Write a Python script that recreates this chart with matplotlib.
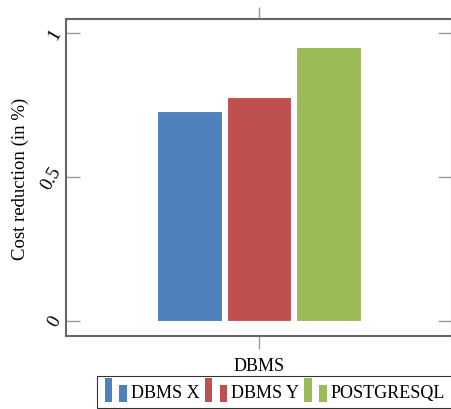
import matplotlib
matplotlib.use('Agg')
import matplotlib.pyplot as plt
from matplotlib.patches import Rectangle
from matplotlib.legend_handler import HandlerBase

# data
category = ['DBMS']
series = ['DBMS X', 'DBMS Y', 'POSTGRESQL']
values = [0.73, 0.779, 0.953]
colors = ['#4F81BD', '#C0504D', '#9BBB59']
yticks = [0, 0.5, 1]
ytick_labels = ['0', '0.5', '1']

plt.rcParams['font.family'] = ['Liberation Serif', 'DejaVu Serif']


class TwoBarHandler(HandlerBase):
    # pgfplots style ybar legend image: tall bar then short bar
    def create_artists(self, legend, orig_handle, xdescent, ydescent,
                       width, height, fontsize, trans):
        c = orig_handle.get_facecolor()
        x0 = -xdescent
        y0 = -ydescent - 0.4 * height
        r1 = Rectangle((x0, y0), 0.32 * width, 1.85 * height, fc=c, ec='none', transform=trans)
        r2 = Rectangle((x0 + 0.66 * width, y0), 0.34 * width, 1.35 * height, fc=c, ec='none', transform=trans)
        return [r1, r2]


fig = plt.figure(figsize=(4.51, 4.10), dpi=100)
ax = fig.add_axes([66 / 451, 1 - 337 / 410, 386 / 451, 317 / 410])

w = 0.168
step = 0.18
handles = []
for i, (name, v, c) in enumerate(zip(series, values, colors)):
    b = ax.bar((i - 1) * step, v, width=w, color=c, edgecolor='white', linewidth=0.8, label=name)
    handles.append(b[0])

ax.set_xlim(-0.5, 0.5)
ax.set_ylim(-0.052, 1.05)
ax.set_xticks([0])
ax.set_xticklabels(category, fontsize=13)
ax.set_yticks(yticks)
ax.set_yticklabels(ytick_labels, fontsize=13.5, rotation=60, va='center')
ax.tick_params(axis='y', direction='in', length=10, width=1, color='#999999', right=True, pad=1)
ax.tick_params(axis='x', direction='out', length=9, width=1, color='#999999', top=True, pad=6)
for s in ax.spines.values():
    s.set_color('#666666')
    s.set_linewidth(1.5)
ax.set_ylabel('Cost reduction (in %)', fontsize=13.5)
ax.yaxis.set_label_coords(-0.097, 0.5)

leg = fig.legend(handles, series, handler_map={h: TwoBarHandler() for h in handles},
                 loc='upper left', bbox_to_anchor=(97 / 451, 1 - 377 / 410), ncol=3,
                 fontsize=13, frameon=True, fancybox=False, edgecolor='black',
                 handlelength=1.25, handletextpad=0.2, columnspacing=0.3,
                 borderpad=0.42, borderaxespad=0)
leg.get_frame().set_linewidth(0.8)

fig.savefig('out.png', dpi=100)
